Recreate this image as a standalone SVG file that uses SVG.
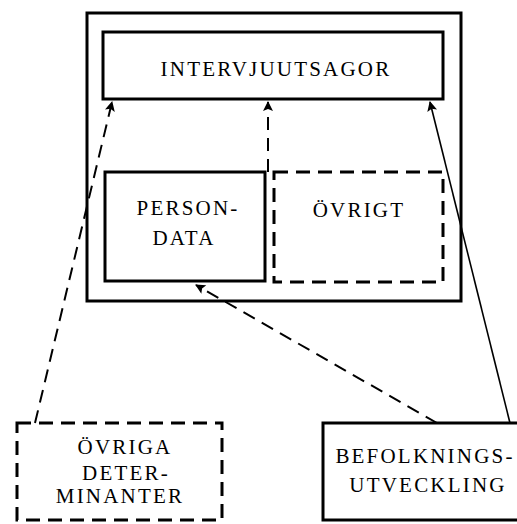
<svg xmlns="http://www.w3.org/2000/svg" width="517" height="524" viewBox="0 0 517 524">
<style>
.box{fill:none;stroke:#000;stroke-width:3}
.dbox{fill:none;stroke:#000;stroke-width:3;stroke-dasharray:14 8}
.t{font-family:"Liberation Serif","Times New Roman",serif;font-size:21px;letter-spacing:2.2px;text-anchor:middle;fill:#000}
.c{fill:none;stroke:#000;stroke-width:1.6}
.cd{fill:none;stroke:#000;stroke-width:2;stroke-dasharray:13 8}
</style>
<defs>
<marker id="ah" viewBox="0 0 10 10" refX="9" refY="5" markerWidth="11" markerHeight="10" orient="auto" markerUnits="userSpaceOnUse">
<path d="M0,0 L10,5 L0,10 L2,5 z" fill="#000"/>
</marker>
</defs>
<rect width="517" height="524" fill="#fff"/>
<g id="outer"><rect class="box" x="87" y="13" width="374" height="288"/></g>
<g id="intervjuutsagor"><rect class="box" x="103" y="32" width="340" height="67"/><text class="t" x="276" y="76">INTERVJUUTSAGOR</text></g>
<g id="persondata"><rect class="box" x="105" y="172" width="160" height="109"/><text class="t" x="188" y="215">PERSON-</text><text class="t" x="184" y="245">DATA</text></g>
<g id="ovrigt"><rect class="dbox" x="274" y="172" width="169" height="110"/><text class="t" x="359" y="217">ÖVRIGT</text></g>
<g id="ovriga"><rect class="dbox" x="17" y="423" width="205" height="97"/><text class="t" x="125" y="454">ÖVRIGA</text><text class="t" x="126" y="480">DETER-</text><text class="t" x="120" y="503">MINANTER</text></g>
<g id="befolkning"><rect class="box" x="323" y="423" width="200" height="97"/><text class="t" x="425" y="463">BEFOLKNINGS-</text><text class="t" x="428" y="492">UTVECKLING</text></g>
<g id="connectors">
<line class="cd" x1="35" y1="423" x2="112" y2="102" marker-end="url(#ah)"/>
<line class="cd" x1="268" y1="172" x2="268" y2="102" marker-end="url(#ah)"/>
<line class="c" x1="510" y1="423" x2="430" y2="102" marker-end="url(#ah)"/>
<line class="cd" x1="437" y1="423" x2="196" y2="285" marker-end="url(#ah)"/>
</g>
</svg>
